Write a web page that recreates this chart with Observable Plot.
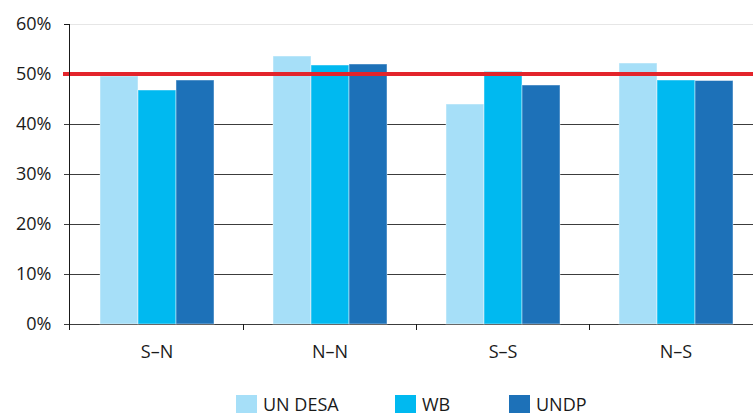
<!DOCTYPE html>
<html>
<head>
<meta charset="utf-8">
<script src="https://cdn.jsdelivr.net/npm/d3@7"></script>
<script src="https://cdn.jsdelivr.net/npm/@observablehq/plot@0.6"></script>
<style>
  html, body { margin: 0; padding: 0; background: #fff; overflow: hidden; }
  #wrap { width: 753px; height: 417px; position: relative; overflow: hidden; font-family: 'Open Sans', sans-serif; }
  .legend { position: absolute; left: 0; top: 395px; width: 753px; height: 18px; font-size: 18px; line-height: 18px; color: #1a1a1a; }
  .item { position: absolute; top: 0; display: flex; align-items: center; gap: 6px; height: 18px; }
  .sw { width: 21px; height: 18px; display: inline-block; }
</style>
</head>
<body>
<div id="wrap"></div>
<script>
const categories = ["S–N", "N–N", "S–S", "N–S"];
const series = ["UN DESA", "WB", "UNDP"];
const undesa = [0.496, 0.536, 0.440, 0.522];
const wb = [0.468, 0.518, 0.505, 0.488];
const undp = [0.488, 0.520, 0.478, 0.487];
const yTicks = [0, 0.1, 0.2, 0.3, 0.4, 0.5, 0.6];
const benchmark = [0.5];
const colors = ["#a6dff8", "#00b9f0", "#1d71b8"];

const valuesBySeries = [undesa, wb, undp];
const rows = categories.flatMap((c, i) =>
  series.map((s, j) => ({cat: c, series: s, value: valuesBySeries[j][i]}))
);

const chart = Plot.plot({
  width: 753,
  height: 395,
  marginLeft: 69,
  marginRight: 0,
  marginTop: 24,
  marginBottom: 71,
  style: {fontFamily: "'Open Sans', sans-serif", fontSize: "18px", color: "#1a1a1a", background: "white", overflow: "visible"},
  facet: {data: rows, x: "cat"},
  fx: {domain: categories, range: [69, 762], padding: 0, axis: "bottom", tickSize: 0, tickPadding: 21, label: null},
  x: {domain: series, axis: null, paddingInner: 0, paddingOuter: 0.755},
  y: {domain: [0, 0.6], ticks: yTicks, tickFormat: d3.format(".0%"), tickSize: 0, tickPadding: 19, label: null},
  color: {domain: series, range: colors},
  marks: [
    Plot.ruleY(yTicks.slice(0, -1).filter(v => !benchmark.includes(v)), {stroke: "#3c3c3c", strokeWidth: 1, insetLeft: -6}),
    Plot.ruleY(yTicks.slice(-1), {stroke: "#e6e6e6", strokeWidth: 1}),
    Plot.barY(rows, {x: "series", y: "value", fill: "series", stroke: "#ffffff", strokeOpacity: 0.45, strokeWidth: 1}),
    Plot.ruleY(benchmark, {stroke: "#e3242b", strokeWidth: 4, dy: -0.5, insetLeft: -7, insetRight: -2})
  ]
});

document.getElementById("wrap").appendChild(chart);

// axis line, top tick and category boundary ticks
try {
  const fx = chart.scale("fx");
  const y = chart.scale("y");
  const svg = d3.select(chart);
  const y0 = y.apply(0), yTop = y.apply(0.6);
  const g = svg.append("g").attr("stroke", "#1a1a1a").attr("stroke-width", 1);
  g.append("line").attr("x1", 69.5).attr("x2", 69.5).attr("y1", yTop).attr("y2", y0 + 6);
  g.append("line").attr("x1", 64).attr("x2", 70).attr("y1", yTop + 0.5).attr("y2", yTop + 0.5);
  categories.slice(1).forEach(c => {
    const xb = Math.round(fx.apply(c)) + 0.5;
    g.append("line").attr("x1", xb).attr("x2", xb).attr("y1", y0).attr("y2", y0 + 6);
  });
} catch (e) { console.error(e); }

// legend
const legendLeft = [236, 395, 509];
const legend = document.createElement("div");
legend.className = "legend";
series.forEach((s, i) => {
  const it = document.createElement("div");
  it.className = "item";
  it.style.left = legendLeft[i] + "px";
  const sw = document.createElement("span");
  sw.className = "sw";
  sw.style.background = colors[i];
  const t = document.createElement("span");
  t.textContent = s;
  it.appendChild(sw); it.appendChild(t);
  legend.appendChild(it);
});
document.getElementById("wrap").appendChild(legend);
</script>
</body>
</html>
